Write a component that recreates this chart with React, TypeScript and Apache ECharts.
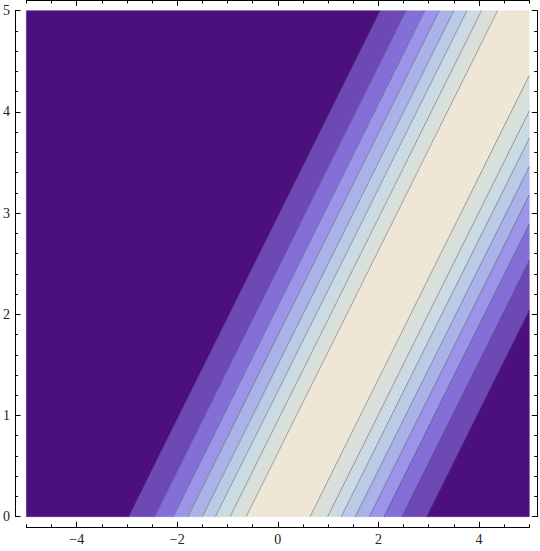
import React, { useEffect, useRef } from "react";
import * as echarts from "echarts";

// Plot range
const xRange = [-5, 5];
const yRange = [0, 5];

// Contour lines, read as values of (x − y) where each contour crosses the plot
const contourLevels = [
  -2.96, -2.45, -2.08, -1.79, -1.5, -1.24, -0.95, -0.63,
  0.64, 0.99, 1.26, 1.54, 1.82, 2.11, 2.47, 2.96,
];

// Band fills from the outer (left) band across the light centre to the outer (right) band
const bandColors = [
  "#4B0F80", "#6E48B4", "#8270D8", "#9B94E8", "#ABB2E7", "#BACBE8", "#CBDAE3", "#D9DFDB",
  "#EFE6D5",
  "#D9DFDB", "#CBDAE3", "#BACBE8", "#ABB2E7", "#9B94E8", "#8270D8", "#6E48B4", "#4B0F80",
];

// Ticks
const xMajorTicks = [-4, -2, 0, 2, 4];
const xMinorTicks = [-5, -4.5, -3.5, -3, -2.5, -1.5, -1, -0.5, 0.5, 1, 1.5, 2.5, 3, 3.5, 4.5, 5];
const yMajorTicks = [0, 1, 2, 3, 4, 5];
const yMinorTicks = [
  0.2, 0.4, 0.6, 0.8, 1.2, 1.4, 1.6, 1.8, 2.2, 2.4, 2.6, 2.8,
  3.2, 3.4, 3.6, 3.8, 4.2, 4.4, 4.6, 4.8,
];

type Pt = number[];

function clipHalf(pts: Pt[], g: (p: Pt) => number): Pt[] {
  const out: Pt[] = [];
  for (let i = 0; i < pts.length; i++) {
    const a = pts[i];
    const b = pts[(i + 1) % pts.length];
    const ga = g(a);
    const gb = g(b);
    if (ga >= 0) out.push(a);
    if ((ga >= 0) !== (gb >= 0)) {
      const t = ga / (ga - gb);
      out.push([a[0] + t * (b[0] - a[0]), a[1] + t * (b[1] - a[1])]);
    }
  }
  return out;
}

const fmt = (v: number) => (v < 0 ? "\u2212" + Math.abs(v) : String(v));

const labelFont = {
  fontFamily: "Liberation Serif, DejaVu Serif, serif",
  fontSize: 14,
  color: "#222",
};

function axisCfg(range: number[], position: string, offset: number, ticks: number[], len: number, labels: boolean, line: boolean) {
  return {
    type: "value",
    position,
    offset,
    min: range[0],
    max: range[1],
    axisLine: { show: line, onZero: false, lineStyle: { color: "#000", width: 1 } },
    axisTick: { show: true, inside: true, length: len, customValues: ticks, lineStyle: { color: "#000", width: 1 } },
    axisLabel: labels
      ? { show: true, customValues: ticks, formatter: fmt, margin: 5, ...labelFont }
      : { show: false },
    splitLine: { show: false },
  };
}

export default function App() {
  const ref = useRef<HTMLDivElement>(null);

  useEffect(() => {
    if (!ref.current) return;
    const chart = echarts.init(ref.current, undefined, { renderer: "svg" });

    const rect: Pt[] = [
      [xRange[0], yRange[0]],
      [xRange[1], yRange[0]],
      [xRange[1], yRange[1]],
      [xRange[0], yRange[1]],
    ];

    const bandData = bandColors.map((_, i) => [i, 0]);
    const lineData = contourLevels.map((_, i) => [i, 0]);

    const option: any = {
      animation: false,
      grid: { left: 22.7, right: 10.7, top: 10.7, bottom: 34.3 },
      xAxis: [
        axisCfg(xRange, "bottom", 10.6, xMajorTicks, 5.5, true, true),
        axisCfg(xRange, "bottom", 10.6, xMinorTicks, 3, false, false),
        axisCfg(xRange, "top", 10.2, xMajorTicks, 5.5, false, true),
        axisCfg(xRange, "top", 10.2, xMinorTicks, 3, false, false),
      ],
      yAxis: [
        axisCfg(yRange, "left", 11.4, yMajorTicks, 5.5, true, true),
        axisCfg(yRange, "left", 11.4, yMinorTicks, 3, false, false),
        axisCfg(yRange, "right", 8, yMajorTicks, 5.5, false, true),
        axisCfg(yRange, "right", 8, yMinorTicks, 3, false, false),
      ],
      series: [
        {
          type: "custom",
          xAxisIndex: 0,
          yAxisIndex: 0,
          data: bandData,
          silent: true,
          renderItem: (params: any, api: any) => {
            const i = api.value(0);
            const lo = i === 0 ? -Infinity : contourLevels[i - 1];
            const hi = i === bandColors.length - 1 ? Infinity : contourLevels[i];
            let poly = rect.slice();
            if (isFinite(lo)) poly = clipHalf(poly, (p) => p[0] - p[1] - lo);
            if (isFinite(hi)) poly = clipHalf(poly, (p) => hi - (p[0] - p[1]));
            if (poly.length < 3) return null;
            return {
              type: "polygon",
              shape: { points: poly.map((p) => api.coord(p)) },
              style: { fill: bandColors[i], stroke: bandColors[i], lineWidth: 0.5 },
            };
          },
        },
        {
          type: "custom",
          xAxisIndex: 0,
          yAxisIndex: 0,
          data: lineData,
          silent: true,
          renderItem: (params: any, api: any) => {
            const c = contourLevels[api.value(0)];
            const y0 = Math.max(yRange[0], xRange[0] - c);
            const y1 = Math.min(yRange[1], xRange[1] - c);
            if (y1 <= y0) return null;
            const p0 = api.coord([c + y0, y0]);
            const p1 = api.coord([c + y1, y1]);
            return {
              type: "line",
              shape: { x1: p0[0], y1: p0[1], x2: p1[0], y2: p1[1] },
              style: { stroke: "rgba(70,70,70,0.45)", lineWidth: 1 },
            };
          },
        },
      ],
    };

    chart.setOption(option);
    return () => chart.dispose();
  }, []);

  return (
    <div
      ref={ref}
      style={{ position: "absolute", left: 0, top: 0, width: 540, height: 551, background: "#fff" }}
    />
  );
}
